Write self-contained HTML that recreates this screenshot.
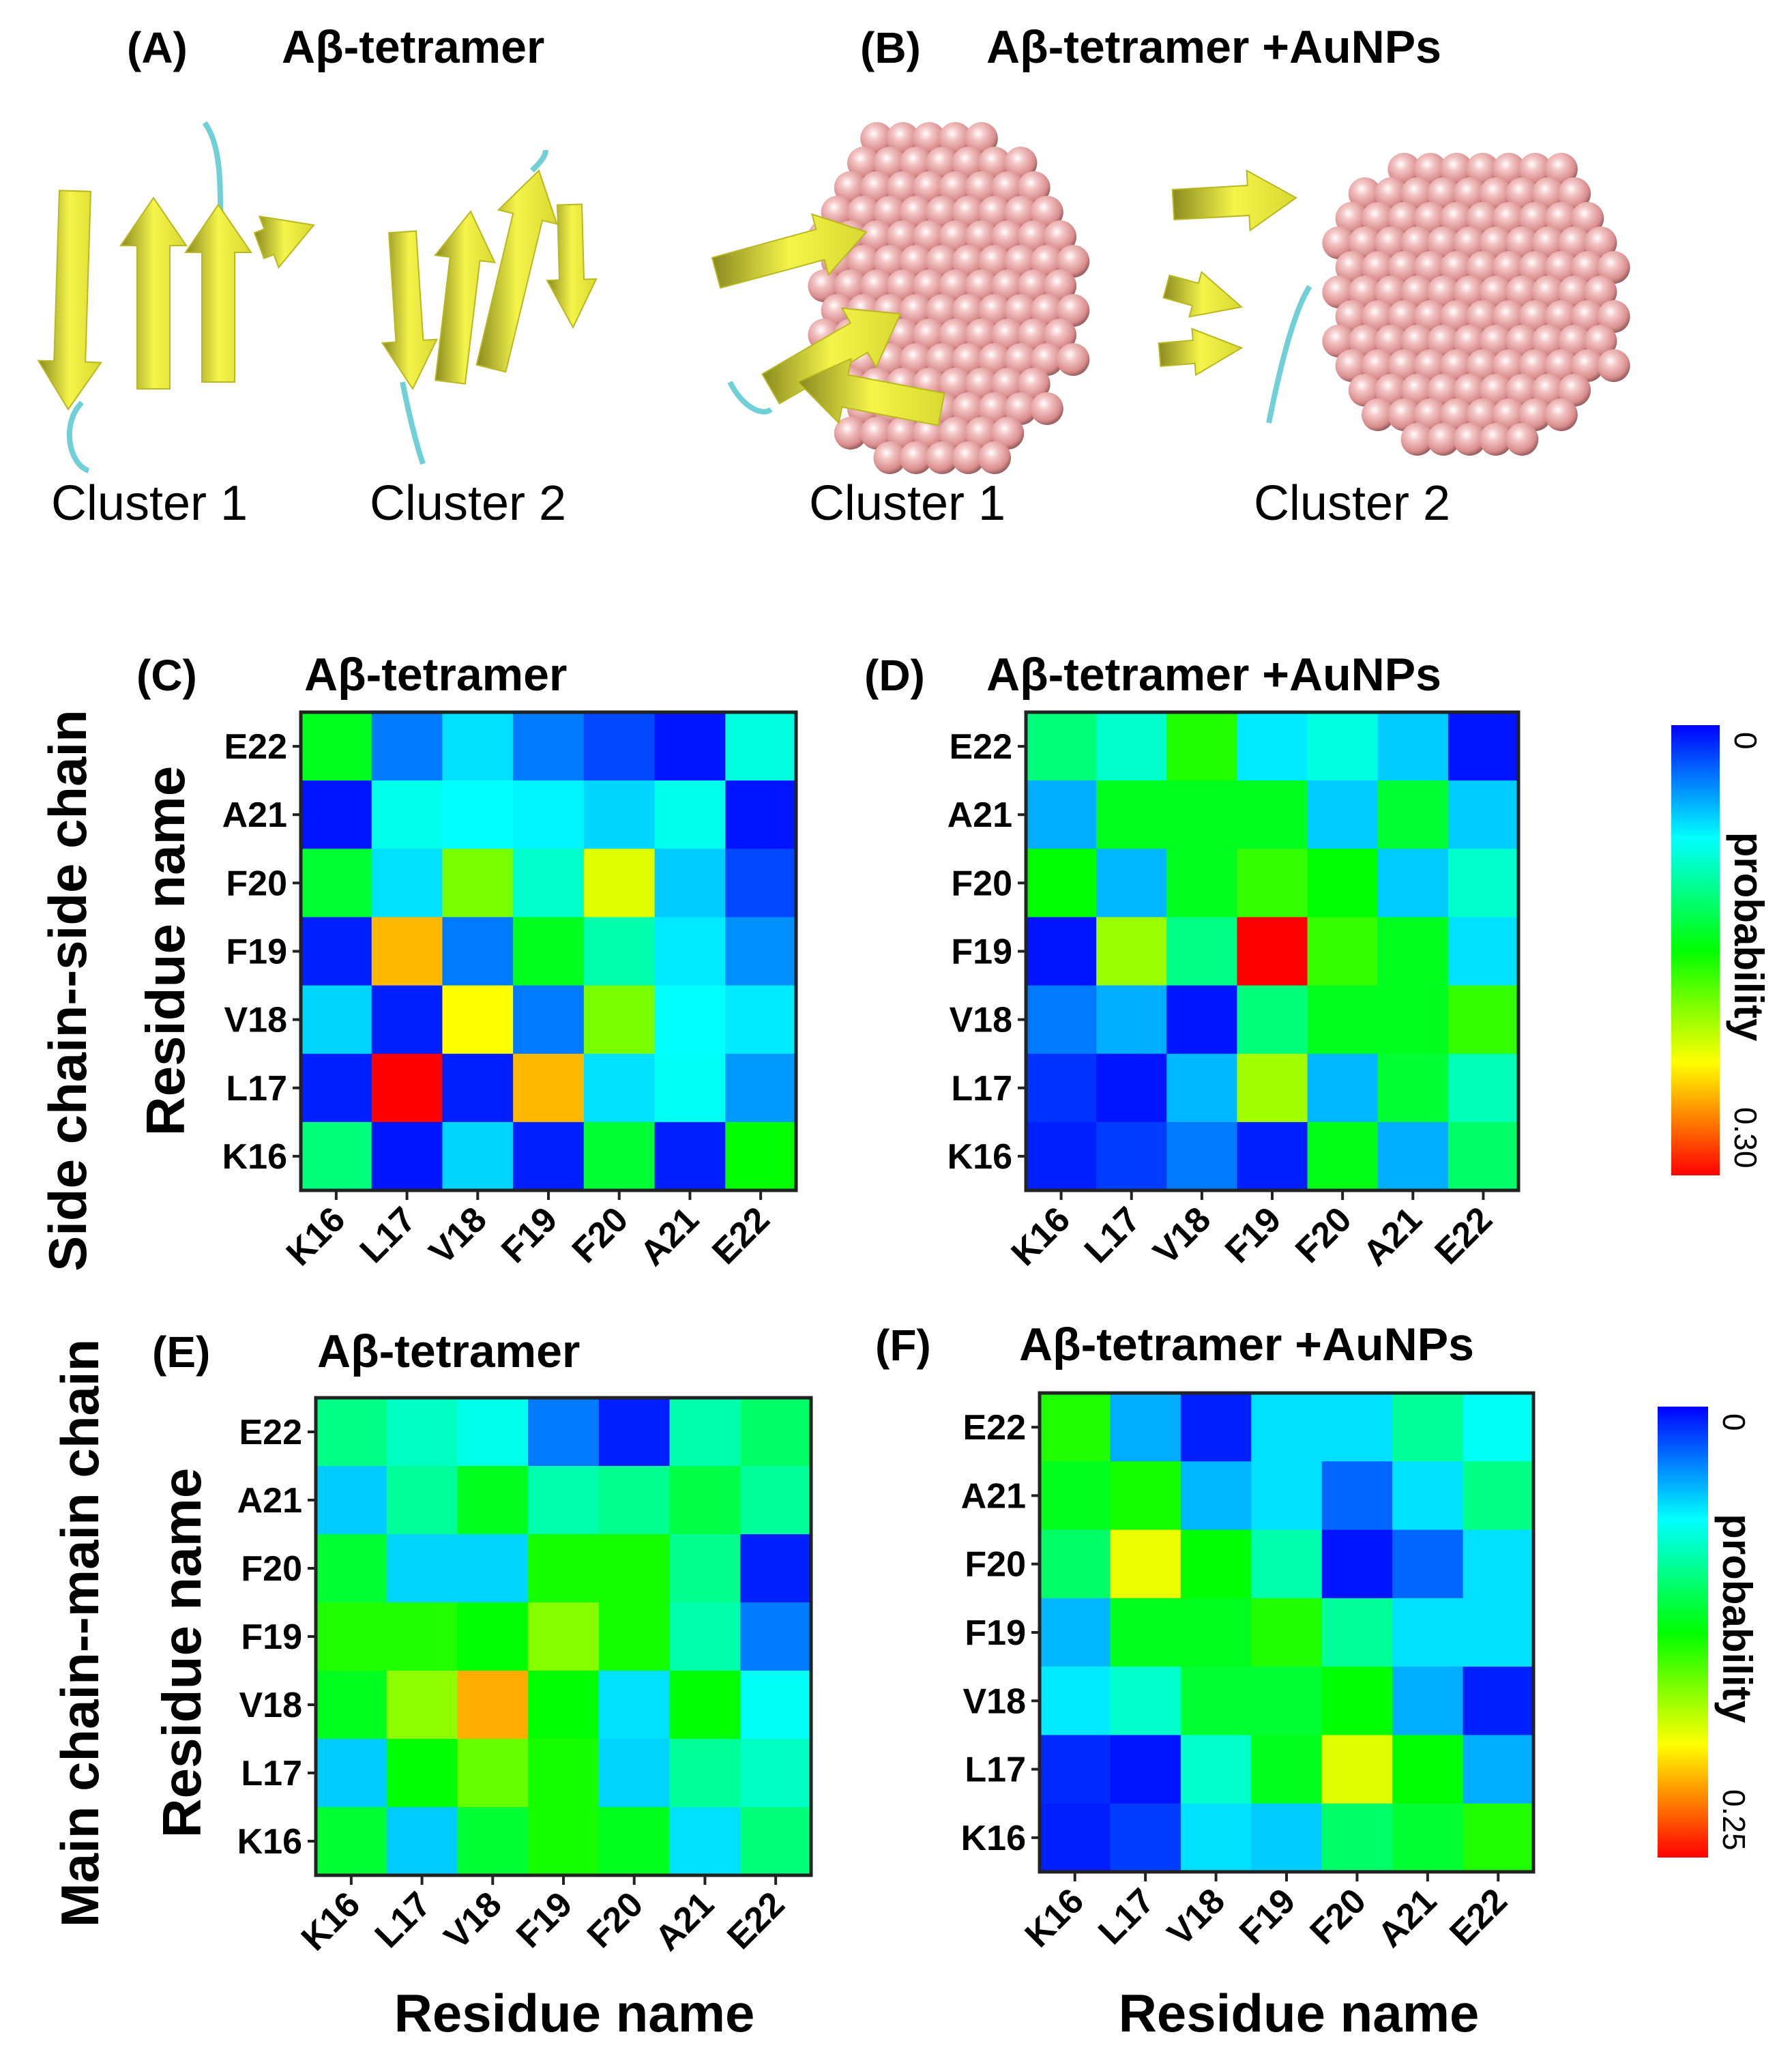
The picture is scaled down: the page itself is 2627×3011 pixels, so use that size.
<!DOCTYPE html>
<html><head><meta charset="utf-8">
<style>
html,body{margin:0;padding:0;background:#fff;}
svg{display:block;font-family:"Liberation Sans",Arial,sans-serif;}
</style></head>
<body>
<svg id="fig" width="2627" height="3011" viewBox="0 0 2627 3011" xmlns="http://www.w3.org/2000/svg">
<defs>
<radialGradient id="au" cx="40%" cy="35%" r="65%">
<stop offset="0" stop-color="#fff"/><stop offset="0.3" stop-color="#f4c6c6"/><stop offset="0.8" stop-color="#d98c8c"/><stop offset="1" stop-color="#9a6060"/>
</radialGradient>
<linearGradient id="yl" x1="0" x2="1"><stop offset="0" stop-color="#8a8a20"/><stop offset="0.5" stop-color="#f4f44a"/><stop offset="1" stop-color="#d8d830"/></linearGradient>
<linearGradient id="cb" x1="0" y1="0" x2="0" y2="1">
<stop offset="0" stop-color="#0000ff"/><stop offset="0.25" stop-color="#00ffff"/><stop offset="0.5" stop-color="#00ff00"/><stop offset="0.75" stop-color="#ffff00"/><stop offset="1" stop-color="#ff0000"/>
</linearGradient>
</defs>
<g id="top">
<text x="186" y="92" font-size="64" font-weight="bold">(A)</text>
<text x="413" y="92" font-size="68" font-weight="bold">Aβ-tetramer</text>
<text x="1261" y="92" font-size="64" font-weight="bold">(B)</text>
<text x="1446" y="92" font-size="68" font-weight="bold">Aβ-tetramer +AuNPs</text>
<text x="219" y="762" font-size="72" text-anchor="middle">Cluster 1</text>
<text x="686" y="762" font-size="72" text-anchor="middle">Cluster 2</text>
<text x="1330" y="762" font-size="72" text-anchor="middle">Cluster 1</text>
<text x="1982" y="762" font-size="72" text-anchor="middle">Cluster 2</text>
</g>
<g id="plots"></g>
</svg>
<script>
const NS="http://www.w3.org/2000/svg";
const plots=document.getElementById('plots');
const top_=document.getElementById('top');
function mk(tag,attrs,parent){const e=document.createElementNS(NS,tag);for(const k in attrs)e.setAttribute(k,attrs[k]);(parent||plots).appendChild(e);return e;}

// ---- data ----
const residues=["K16","L17","V18","F19","F20","A21","E22"];
const rowsTopDown=["E22","A21","F20","F19","V18","L17","K16"];
const maxSide=0.30;
const maxMain=0.25;
const sideTetramer=[
[0.141,0.036,0.066,0.036,0.021,0.006,0.084],
[0.006,0.081,0.075,0.072,0.063,0.081,0.006],
[0.135,0.066,0.186,0.090,0.216,0.060,0.021],
[0.009,0.246,0.036,0.141,0.099,0.069,0.042],
[0.063,0.009,0.225,0.036,0.186,0.075,0.069],
[0.009,0.300,0.009,0.246,0.066,0.078,0.045],
[0.114,0.006,0.063,0.009,0.135,0.009,0.150]];
const sideAuNP=[
[0.114,0.090,0.159,0.069,0.084,0.060,0.006],
[0.051,0.141,0.141,0.141,0.060,0.135,0.060],
[0.150,0.054,0.141,0.165,0.150,0.060,0.090],
[0.006,0.195,0.111,0.300,0.165,0.141,0.066],
[0.036,0.051,0.006,0.114,0.141,0.141,0.165],
[0.015,0.006,0.054,0.198,0.054,0.135,0.096],
[0.009,0.018,0.036,0.009,0.144,0.051,0.120]];
const mainTetramer=[
[0.0925,0.0775,0.0675,0.030,0.0075,0.0825,0.100],
[0.050,0.0875,0.1175,0.0825,0.090,0.1075,0.0875],
[0.1125,0.0525,0.0525,0.130,0.130,0.090,0.0075],
[0.1325,0.1325,0.125,0.1575,0.130,0.0825,0.030],
[0.1175,0.160,0.2075,0.125,0.055,0.125,0.065],
[0.050,0.125,0.150,0.130,0.0525,0.0875,0.0775],
[0.1125,0.050,0.1125,0.130,0.1175,0.055,0.095]];
const mainAuNP=[
[0.1325,0.0425,0.0075,0.055,0.055,0.0875,0.065],
[0.1175,0.130,0.045,0.055,0.025,0.055,0.0925],
[0.100,0.1825,0.125,0.0825,0.005,0.025,0.055],
[0.045,0.1175,0.1175,0.1325,0.0875,0.055,0.055],
[0.0575,0.075,0.1125,0.1125,0.125,0.0425,0.0075],
[0.010,0.005,0.075,0.1175,0.180,0.125,0.0425],
[0.0075,0.015,0.055,0.050,0.100,0.1125,0.1325]];
const sideTicks=["0","0.30"];
const mainTicks=["0","0.25"];

function colorOf(v,max){const t=Math.max(0,Math.min(1,v/max));const h=240*(1-t);return `hsl(${h},100%,50%)`;}

function heatmap(name,x0,y0,x1,y1,data,max){
  const g=mk('g',{});
  
  
  const n=residues.length;
  const cw=(x1-x0)/n, ch=(y1-y0)/rowsTopDown.length;
  const xs=i=>x0+i*cw, ys=j=>y0+j*ch;
  data.forEach((row,j)=>row.forEach((v,i)=>{
    const r=mk('rect',{x:xs(i),y:ys(j),width:cw+0.6,height:ch+0.6,fill:colorOf(v,max)},g);
    
    
  }));
  mk('rect',{x:x0,y:y0,width:x1-x0,height:y1-y0,fill:'none',stroke:'#222','stroke-width':5},g);
  rowsTopDown.forEach((lab,j)=>{
    const cy=ys(j)+ch/2;
    mk('line',{x1:x0-12,x2:x0,y1:cy,y2:cy,stroke:'#222','stroke-width':4},g);
    const t=mk('text',{x:x0-20,y:cy+18,'font-size':52,'font-weight':'bold','text-anchor':'end'},g);
    t.textContent=lab;
    
    
  });
  residues.forEach((lab,i)=>{
    const cx=xs(i)+cw/2;
    mk('line',{x1:cx,x2:cx,y1:y1,y2:y1+14,stroke:'#222','stroke-width':4},g);
    const t=mk('text',{x:cx+16,y:y1+46,'font-size':52,'font-weight':'bold','text-anchor':'end',transform:`rotate(-45 ${cx+16} ${y1+46})`},g);
    t.textContent=lab;
    
    
  });
}
function colorbar(name,x0,y0,x1,y1,ticks){
  const g=mk('g',{});
  
  
  mk('rect',{x:x0,y:y0,width:x1-x0,height:y1-y0,fill:'url(#cb)'},g);
  const tx=x1+22;
  const a=mk('text',{x:tx,y:y0+10,'font-size':46,'text-anchor':'start',transform:`rotate(90 ${tx} ${y0+10})`},g);
  a.textContent=ticks[0];
  const b=mk('text',{x:tx,y:y1-100,'font-size':46,'text-anchor':'start',transform:`rotate(90 ${tx} ${y1-100})`},g);
  b.textContent=ticks[1];
  const my=(y0+y1)/2-20;
  const c=mk('text',{x:tx,y:my,'font-size':60,'font-weight':'bold','text-anchor':'middle',transform:`rotate(90 ${tx} ${my})`},g);
  c.textContent='probability';
  
  
}
function txt(name,s,x,y,size,bold,rot,anchor){
  const t=mk('text',{x:x,y:y,'font-size':size,'font-weight':bold?'bold':'normal','text-anchor':anchor||'start'});
  if(rot)t.setAttribute('transform',`rotate(${rot} ${x} ${y})`);
  t.textContent=s;
  
  
}

heatmap('heatmap-c-side-tetramer',441,1044,1167,1745,sideTetramer,maxSide);
heatmap('heatmap-d-side-aunp',1504,1044,2226,1745,sideAuNP,maxSide);
heatmap('heatmap-e-main-tetramer',463,2049,1189,2749,mainTetramer,maxMain);
heatmap('heatmap-f-main-aunp',1524,2042,2248,2744,mainAuNP,maxMain);
colorbar('colorbar-side',2450,1063,2521,1723,sideTicks);
colorbar('colorbar-main',2430,2062,2504,2723,mainTicks);

txt('panel-c-label','(C)',200,1012,64,true);
txt('panel-c-title','Aβ-tetramer',446,1012,68,true);
txt('panel-d-label','(D)',1267,1012,64,true);
txt('panel-d-title','Aβ-tetramer +AuNPs',1446,1012,68,true);
txt('panel-e-label','(E)',223,2004,64,true);
txt('panel-e-title','Aβ-tetramer',465,2004,68,true);
txt('panel-f-label','(F)',1283,1994,64,true);
txt('panel-f-title','Aβ-tetramer +AuNPs',1494,1994,68,true);
txt('side-chain-title','Side chain--side chain',126,1452,78,true,-90,'middle');
txt('y-axis-title-top','Residue name',270,1394,80,true,-90,'middle');
txt('main-chain-title','Main chain--main chain',144,2394,78,true,-90,'middle');
txt('y-axis-title-bottom','Residue name',294,2423,80,true,-90,'middle');
txt('x-axis-title-left','Residue name',842,2978,78,true,0,'middle');
txt('x-axis-title-right','Residue name',1904,2978,78,true,0,'middle');

// ---- illustrations ----
function nanoparticle(name,cx,cy,rx,ry,r){
  const g=mk('g',{},top_);
  
  
  for(let y=cy-ry;y<=cy+ry;y+=r*1.5){
    for(let x=cx-rx;x<=cx+rx;x+=r*1.6){
      const dx=(x-cx)/rx, dy=(y-cy)/ry;
      if(dx*dx+dy*dy<=1) mk('circle',{cx:x+((Math.round((y-cy)/(r*1.5))%2)?r*0.8:0),cy:y,r:r,fill:'url(#au)'},g);
    }
  }
}
nanoparticle('nanoparticle-b1',1370,432,200,265,24);
nanoparticle('nanoparticle-b2',2149,442,225,230,24);

function arrow(name,x1,y1,x2,y2,w){
  const dx=x2-x1,dy=y2-y1,L=Math.hypot(dx,dy),ux=dx/L,uy=dy/L,px=-uy,py=ux;
  const hb=L-70;
  const pts=[[0,-w/2],[hb,-w/2],[hb,-w],[L,0],[hb,w],[hb,w/2],[0,w/2]].map(([a,b])=>`${x1+ux*a+px*b},${y1+uy*a+py*b}`).join(' ');
  const p=mk('polygon',{points:pts,fill:'url(#yl)',stroke:'#b8b820','stroke-width':2},top_);
  
  
}
function loop(d){mk('path',{d:d,fill:'none',stroke:'#6fd0d8','stroke-width':8},top_);}
loop('M120 590 C90 620 100 680 130 690');
loop('M300 180 C330 220 320 300 325 340');
arrow('strand-a1-1',110,280,100,600,46);
arrow('strand-a1-2',225,570,225,290,48);
arrow('strand-a1-3',320,560,320,300,48);
arrow('strand-a1-4',380,360,460,330,40);
loop('M590 560 C600 610 610 650 620 680');
loop('M780 250 C790 240 800 230 800 220');
arrow('strand-a2-1',590,340,605,570,40);
arrow('strand-a2-2',660,560,690,310,44);
arrow('strand-a2-3',720,540,790,250,44);
arrow('strand-a2-4',835,300,840,480,36);
loop('M1070 560 C1090 600 1120 610 1130 600');
arrow('strand-b1-1',1050,400,1270,340,46);
arrow('strand-b1-2',1130,570,1320,460,50);
arrow('strand-b1-3',1380,600,1170,560,48);
loop('M1860 620 C1880 520 1900 450 1920 420');
arrow('strand-b2-1',1720,300,1900,290,44);
arrow('strand-b2-2',1710,420,1820,450,34);
arrow('strand-b2-3',1700,520,1820,510,34);
</script>
</body></html>
